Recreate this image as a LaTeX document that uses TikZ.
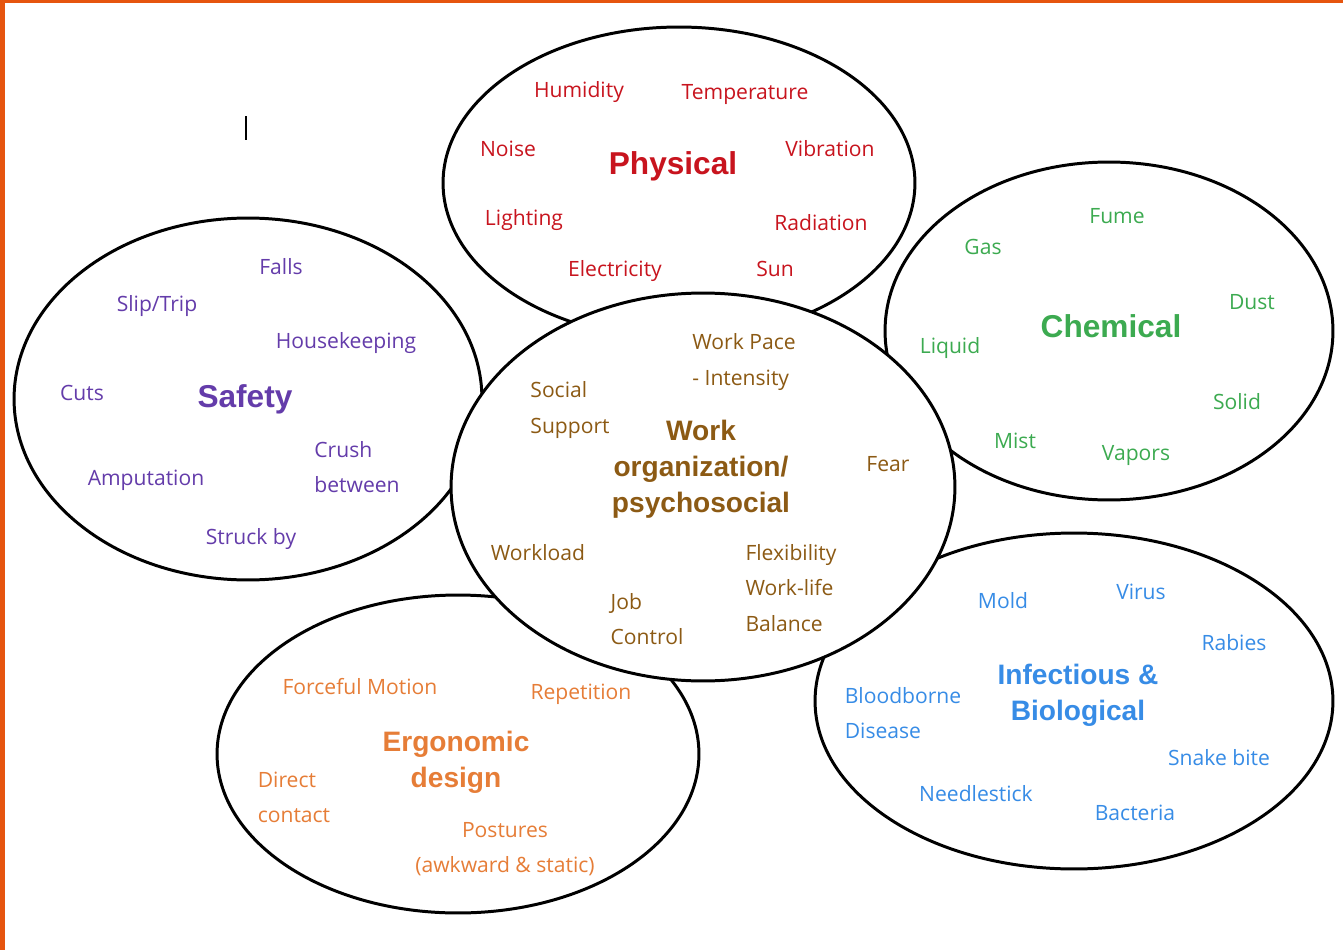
\documentclass[tikz,border=0pt]{standalone}
\usepackage{fontspec}
\setmainfont{Open Sans}
\newfontfamily\headfont{Liberation Sans}
\usetikzlibrary{shapes.geometric}
\definecolor{physred}{RGB}{200,20,30}
\definecolor{chemgreen}{RGB}{60,170,80}
\definecolor{safepurple}{RGB}{100,60,170}
\definecolor{workbrown}{RGB}{140,90,20}
\definecolor{ergoorange}{RGB}{230,125,55}
\definecolor{bioblue}{RGB}{55,140,230}
\definecolor{frameorange}{RGB}{230,85,15}

\begin{document}
\begin{tikzpicture}[x=0.02cm, y=-0.02cm,
  zone/.style={ellipse, draw=black, line width=1.7pt, fill=white, inner sep=0pt},
  item/.style={font=\fontsize{12}{20}\selectfont, align=left, inner sep=0pt},
  title/.style={font=\headfont\bfseries\fontsize{18}{21}\selectfont, align=center, inner sep=0pt},
  subtitle/.style={font=\headfont\bfseries\fontsize{16}{20.5}\selectfont, align=center, inner sep=0pt}
]
\useasboundingbox (0,0) rectangle (1343,950);

% Frame
\fill[white] (0,0) rectangle (1343,950);
\fill[frameorange] (0,0) rectangle (1343,3);
\fill[frameorange] (0,0) rectangle (5,950);
\draw[line width=1pt] (246,116) -- (246,140);

% Hazard zones
\node[zone, minimum width=9.44cm, minimum height=6.24cm] (physzone) at (679,183) {};
\node[zone, minimum width=8.96cm, minimum height=6.76cm] (chemzone) at (1109,331) {};
\node[zone, minimum width=9.36cm, minimum height=7.24cm] (safezone) at (248,399) {};
\node[zone, minimum width=9.64cm, minimum height=6.36cm] (ergozone) at (458,754) {};
\node[zone, minimum width=10.36cm, minimum height=6.72cm] (biozone) at (1074,701) {};
\node[zone, minimum width=10.08cm, minimum height=7.76cm] (workzone) at (703,487) {};

% Physical
\node[title, text=physred] (physical) at (673,166) {Physical};
\node[item, text=physred] (humidity) at (579,92) {Humidity};
\node[item, text=physred] (temperature) at (745,95) {Temperature};
\node[item, text=physred] (noise) at (508,149) {Noise};
\node[item, text=physred] (vibration) at (830,149) {Vibration};
\node[item, text=physred] (lighting) at (524,220) {Lighting};
\node[item, text=physred] (radiation) at (821,223) {Radiation};
\node[item, text=physred] (electricity) at (615,271) {Electricity};
\node[item, text=physred] (sun) at (775,269) {Sun};

% Chemical
\node[title, text=chemgreen] (chemical) at (1111,326) {Chemical};
\node[item, text=chemgreen] (fume) at (1117,216) {Fume};
\node[item, text=chemgreen] (gas) at (983,247) {Gas};
\node[item, text=chemgreen] (dust) at (1252,302) {Dust};
\node[item, text=chemgreen] (liquid) at (950,348) {Liquid};
\node[item, text=chemgreen] (solid) at (1237,402) {Solid};
\node[item, text=chemgreen] (mist) at (1015,441) {Mist};
\node[item, text=chemgreen] (vapors) at (1136,456) {Vapors};

% Safety
\node[title, text=safepurple] (safety) at (245,399) {Safety};
\node[item, text=safepurple] (falls) at (281,267) {Falls};
\node[item, text=safepurple] (sliptrip) at (157,306) {Slip/Trip};
\node[item, text=safepurple] (housekeeping) at (346,343) {Housekeeping};
\node[item, text=safepurple] (cuts) at (82,393) {Cuts};
\node[item, text=safepurple] (crush) at (357,467) {Crush\\between};
\node[item, text=safepurple] (amputation) at (146,480) {Amputation};
\node[item, text=safepurple] (struckby) at (251,539) {Struck by};

% Work organization
\node[subtitle, text=workbrown] (workorg) at (701,469) {Work\\organization/\\psychosocial};
\node[item, text=workbrown] (workpace) at (744,362) {Work Pace\\- Intensity};
\node[item, text=workbrown] (social) at (570,410) {Social\\Support};
\node[item, text=workbrown] (fear) at (888,464) {Fear};
\node[item, text=workbrown] (workload) at (538,553) {Workload};
\node[item, text=workbrown] (flexibility) at (791,588) {Flexibility\\Work-life\\Balance};
\node[item, text=workbrown] (jobcontrol) at (647,619) {Job\\Control};

% Ergonomic
\node[subtitle, text=ergoorange] (ergonomic) at (456,762) {Ergonomic\\design};
\node[item, text=ergoorange] (forceful) at (360,687) {Forceful Motion};
\node[item, text=ergoorange] (repetition) at (581,694) {Repetition};
\node[item, text=ergoorange] (direct) at (294,797) {Direct\\contact};
\node[item, text=ergoorange, align=center] (postures) at (505,849) {Postures\\(awkward \& static)};

% Infectious
\node[subtitle, text=bioblue] (infectious) at (1078,695) {Infectious \&\\Biological};
\node[item, text=bioblue] (mold) at (1003,601) {Mold};
\node[item, text=bioblue] (virus) at (1141,592) {Virus};
\node[item, text=bioblue] (rabies) at (1234,643) {Rabies};
\node[item, text=bioblue] (bloodborne) at (903,713) {Bloodborne\\Disease};
\node[item, text=bioblue] (snakebite) at (1219,758) {Snake bite};
\node[item, text=bioblue] (needlestick) at (976,794) {Needlestick};
\node[item, text=bioblue] (bacteria) at (1135,813) {Bacteria};

\end{tikzpicture}
\end{document}
